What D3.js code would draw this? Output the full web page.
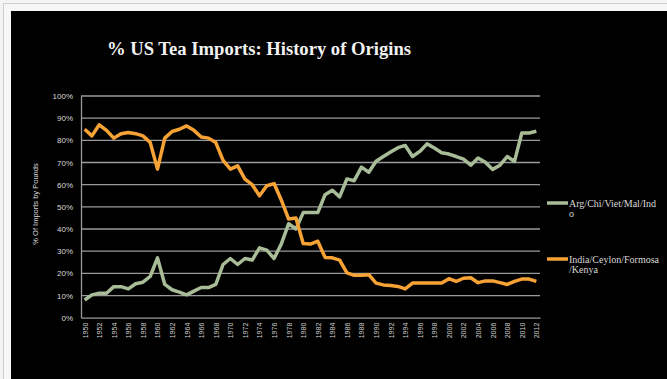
<!DOCTYPE html>
<html><head><meta charset="utf-8">
<script src="https://cdn.jsdelivr.net/npm/d3@7"></script>
<style>html,body{margin:0;padding:0;background:#f4f4f4;}svg{display:block;}</style>
</head><body>
<svg id="c" width="667" height="379"></svg>
<script>
const years = [1950,1951,1952,1953,1954,1955,1956,1957,1958,1959,1960,1961,1962,1963,1964,1965,1966,1967,1968,1969,
1970,1971,1972,1973,1974,1975,1976,1977,1978,1979,1980,1981,1982,1983,1984,1985,1986,1987,1988,1989,
1990,1991,1992,1993,1994,1995,1996,1997,1998,1999,2000,2001,2002,2003,2004,2005,2006,2007,2008,2009,2010,2011,2012];

const argChiVietMalIndo = [8,10.3,11,11,14,14,13,15.3,16,18.6,27,15,12.6,11.5,10.3,12,13.6,13.6,15,24,
26.7,24,26.7,26,31.5,30.5,26.7,33.3,42.4,40,47.4,47.4,47.4,55.5,57.5,54.5,62.6,61.8,67.9,65.6,
70.6,72.7,74.7,76.7,77.7,72.7,75,78.4,76.5,74.4,73.8,72.7,71.5,68.8,72,70.1,66.9,68.8,72.7,70.5,83.3,83.3,84.1];

const indiaCeylonFormosaKenya = [85,82,87,84.5,81,83,83.5,83,82,79,67,81,84,85,86.5,84.5,81.5,81,79,71,
67,68.5,62.5,60,55,59.5,60.5,53,44.5,45,33.5,33.2,34.5,27.2,27,26,20.2,19.1,19.1,19.4,
15.6,14.8,14.5,14.1,13,15.6,15.6,15.6,15.6,15.6,17.6,16.4,17.8,18,15.8,16.6,16.6,15.8,15,16.4,17.4,17.4,16.4];

const yTicks = [0,10,20,30,40,50,60,70,80,90,100];
const xTickYears = years.filter(y => y % 2 === 0);

const seriesNames = ["Arg/Chi/Viet/Mal/Indo", "India/Ceylon/Formosa/Kenya"];
const legendLines = [["Arg/Chi/Viet/Mal/Ind","o"],["India/Ceylon/Formosa","/Kenya"]];
const colors = ["#a7bc97", "#f6a235"];

const svg = d3.select("#c");
// outer frame
svg.append("rect").attr("x",3.5).attr("y",3.5).attr("width",670).attr("height",380)
  .attr("fill","#f7f7f7").attr("stroke","#cfcfcf");
svg.append("rect").attr("x",11).attr("y",11).attr("width",656).attr("height",368).attr("fill","#000");

const L = 81, R = 540, T = 96, B = 317.7;
const x = d3.scalePoint().domain(years).range([L, R]).padding(0.5);
const y = d3.scaleLinear().domain([0,100]).range([B, T]);

// title
svg.append("text").attr("x",107).attr("y",55)
  .attr("font-family","'Liberation Serif', serif").attr("font-weight","bold")
  .attr("font-size",18).attr("fill","#f2f2f2")
  .attr("textLength",304).attr("lengthAdjust","spacingAndGlyphs")
  .text("% US Tea Imports: History of Origins");

// gridlines
svg.append("g").selectAll("line").data(yTicks.filter(d=>d>0)).join("line")
  .attr("x1",L).attr("x2",R).attr("y1",d=>y(d)).attr("y2",d=>y(d))
  .attr("stroke","#9a9a9a").attr("stroke-width",1.3);

// y axis
const yAxis = svg.append("g").attr("transform",`translate(${L},0)`)
  .call(d3.axisLeft(y).tickValues(yTicks).tickSize(0).tickPadding(8).tickFormat(d=>d+"%"));
yAxis.select(".domain").attr("stroke","#9a9a9a").attr("stroke-width",1.3);
yAxis.selectAll("text").attr("fill","#d8d8d8").attr("font-size",8)
  .attr("font-family","'Liberation Sans', Arial, sans-serif");

// x axis
const xAxis = svg.append("g").attr("transform",`translate(0,${B})`)
  .call(d3.axisBottom(x).tickValues(xTickYears).tickSize(0).tickPadding(0));
xAxis.select(".domain").attr("stroke","#9a9a9a").attr("stroke-width",1.3);
xAxis.selectAll("text").attr("fill","#d0d0d0").attr("font-size",7)
  .attr("font-family","'Liberation Sans', Arial, sans-serif")
  .attr("transform","rotate(-90)").attr("text-anchor","end")
  .attr("x",-5).attr("y",0).attr("dy","0.35em");

// y title
svg.append("text").attr("transform","translate(38,204) rotate(-90)")
  .attr("text-anchor","middle").attr("font-size",7.5).attr("fill","#d8d8d8")
  .attr("font-family","'Liberation Sans', Arial, sans-serif")
  .text("% Of Imports by Pounds");

// lines
const line = d3.line().x((d,i)=>x(years[i])).y(d=>y(d));
[argChiVietMalIndo, indiaCeylonFormosaKenya].forEach((s,k)=>{
  svg.append("path").datum(s).attr("d",line).attr("fill","none")
    .attr("stroke",colors[k]).attr("stroke-width",3.5).attr("stroke-linejoin","round");
});

// legend
const legY = [203, 259];
legendLines.forEach((lines,k)=>{
  svg.append("line").attr("x1",547).attr("x2",568).attr("y1",legY[k]).attr("y2",legY[k])
    .attr("stroke",colors[k]).attr("stroke-width",3.5);
  const t = svg.append("text").attr("x",569).attr("y",legY[k]+3.5)
    .attr("font-family","'Liberation Serif', serif").attr("font-size",10).attr("fill","#d8d8d8");
  lines.forEach((ln,j)=>{
    t.append("tspan").attr("x",569).attr("dy",j===0?0:10.5).text(ln);
  });
});
</script>
</body></html>
